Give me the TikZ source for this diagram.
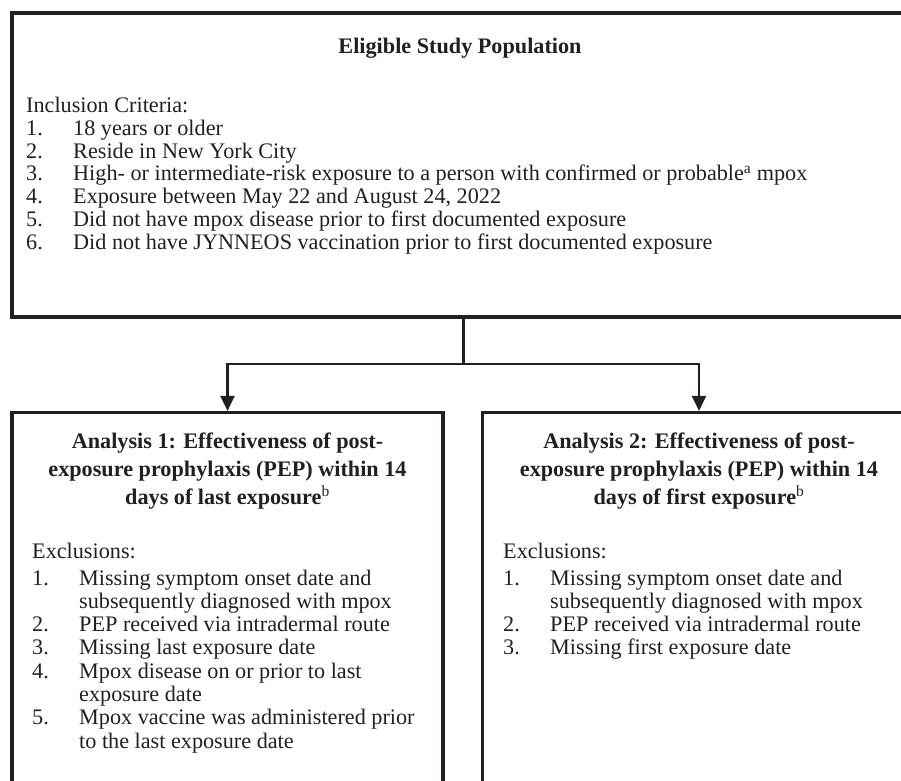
\documentclass[tikz,border=0pt]{standalone}
\usepackage{fontspec}
\setmainfont{Liberation Serif}
\usetikzlibrary{arrows.meta}
\definecolor{ink}{HTML}{231F20}
\begin{document}
\begin{tikzpicture}[x=1pt,y=1pt,
  frame/.style={draw=ink, line width=3.8pt, inner sep=0pt, outer sep=0pt},
  txt/.style={inner sep=0pt, text=ink, font=\fontsize{22.2}{23}\selectfont, anchor=base west},
  head/.style={inner sep=0pt, text=ink, font=\bfseries\fontsize{22.2}{28}\selectfont, anchor=base},
  conn/.style={draw=ink, line width=2.4pt},
  arr/.style={-{Triangle[length=15pt,width=14pt]}, shorten >=1.6pt}
]
\clip (0,0) rectangle (901,-780);
% boxes
\node[frame, anchor=north west, minimum width=903pt, minimum height=303.7pt] (pop) at (12,-13) {};
\node[frame, anchor=north west, minimum width=431pt, minimum height=420pt] (an1) at (12,-412.5) {};
\node[frame, anchor=north west, minimum width=433pt, minimum height=420pt] (an2) at (482.5,-412.5) {};
% connectors
\draw[conn] (pop.south) -- ++(0,-47) coordinate (split);
\draw[conn,arr] (split) -| (an1.north);
\draw[conn,arr] (split) -| (an2.north);
% top box text
\node[head] (popt) at (460,-53) {Eligible Study Population};
\node[txt] (inc) at (26,-112.5) {Inclusion Criteria:};
\foreach \n/\t [count=\k from 0] in {
  1./{18 years or older},
  2./{Reside in New York City},
  3./{High- or intermediate-risk exposure to a person with confirmed or probable\textsuperscript{a} mpox},
  4./{Exposure between May 22 and August 24, 2022},
  5./{Did not have mpox disease prior to first documented exposure},
  6./{Did not have JYNNEOS vaccination prior to first documented exposure}}{
  \node[txt] (incn\k) at (26,{-135.5-22.7*\k}) {\n};
  \node[txt] (inct\k) at (73,{-135.5-22.7*\k}) {\t};
}
% analysis 1
\node[head] (a1h1) at (227.5,-448) {Analysis 1: Effectiveness of post-};
\node[head] (a1h2) at (227.5,-476) {exposure prophylaxis (PEP) within 14};
\node[head] (a1h3) at (227.5,-504) {days of last exposure\textsuperscript{\mdseries b}};
\node[txt] (a1ex) at (32,-558) {Exclusions:};
\node[txt] (a1n1) at (32,-585) {1.};
\node[txt] (a1t1) at (79,-585) {Missing symptom onset date and};
\node[txt] (a1t1b) at (79,-608.3) {subsequently diagnosed with mpox};
\node[txt] (a1n2) at (32,-631.6) {2.};
\node[txt] (a1t2) at (79,-631.6) {PEP received via intradermal route};
\node[txt] (a1n3) at (32,-654.9) {3.};
\node[txt] (a1t3) at (79,-654.9) {Missing last exposure date};
\node[txt] (a1n4) at (32,-678.2) {4.};
\node[txt] (a1t4) at (79,-678.2) {Mpox disease on or prior to last};
\node[txt] (a1t4b) at (79,-701.5) {exposure date};
\node[txt] (a1n5) at (32,-724.8) {5.};
\node[txt] (a1t5) at (79,-724.8) {Mpox vaccine was administered prior};
\node[txt] (a1t5b) at (79,-748.1) {to the last exposure date};
% analysis 2
\node[head] (a2h1) at (699,-448) {Analysis 2: Effectiveness of post-};
\node[head] (a2h2) at (699,-476) {exposure prophylaxis (PEP) within 14};
\node[head] (a2h3) at (699,-504) {days of first exposure\textsuperscript{\mdseries b}};
\node[txt] (a2ex) at (503,-558) {Exclusions:};
\node[txt] (a2n1) at (503,-585) {1.};
\node[txt] (a2t1) at (550,-585) {Missing symptom onset date and};
\node[txt] (a2t1b) at (550,-608.3) {subsequently diagnosed with mpox};
\node[txt] (a2n2) at (503,-631.6) {2.};
\node[txt] (a2t2) at (550,-631.6) {PEP received via intradermal route};
\node[txt] (a2n3) at (503,-654.9) {3.};
\node[txt] (a2t3) at (550,-654.9) {Missing first exposure date};
\end{tikzpicture}
\end{document}
